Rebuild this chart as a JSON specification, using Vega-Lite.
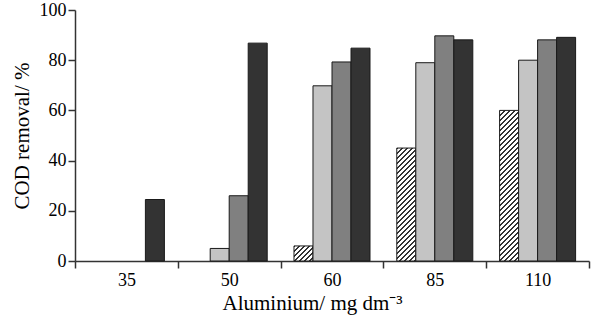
{
  "$schema": "https://vega.github.io/schema/vega-lite/v6.json",
  "width": 514,
  "height": 251,
  "autosize": {"type": "none"},
  "padding": {"left": 75, "top": 10, "right": 7, "bottom": 59},
  "background": "white",
  "config": {"view": {"stroke": null}, "font": "Liberation Serif"},
  "data": {
    "values": [
      {"al": "35", "series": "D", "cod": 24.5},
      {"al": "50", "series": "B", "cod": 5},
      {"al": "50", "series": "C", "cod": 26},
      {"al": "50", "series": "D", "cod": 86.8},
      {"al": "60", "series": "A", "cod": 6},
      {"al": "60", "series": "B", "cod": 69.8},
      {"al": "60", "series": "C", "cod": 79.3},
      {"al": "60", "series": "D", "cod": 84.8},
      {"al": "85", "series": "A", "cod": 45},
      {"al": "85", "series": "B", "cod": 79},
      {"al": "85", "series": "C", "cod": 89.7},
      {"al": "85", "series": "D", "cod": 88.1},
      {"al": "110", "series": "A", "cod": 60},
      {"al": "110", "series": "B", "cod": 80},
      {"al": "110", "series": "C", "cod": 88.1},
      {"al": "110", "series": "D", "cod": 89.1}
    ]
  },
  "mark": {"type": "bar", "stroke": "#1a1a1a", "strokeWidth": 1},
  "encoding": {
    "x": {
      "field": "al",
      "type": "nominal",
      "scale": {"domain": ["35", "50", "60", "85", "110"], "paddingInner": 0, "paddingOuter": 0},
      "axis": {
        "title": "Aluminium/ mg dm⁻³",
        "labelAngle": 0,
        "tickBand": "extent",
        "tickSize": 7,
        "tickWidth": 1.5,
        "tickColor": "#333",
        "domainColor": "#333",
        "domainWidth": 1.5,
        "labelFont": "Liberation Serif",
        "labelFontSize": 18,
        "labelColor": "#000",
        "labelPadding": 3,
        "titleFont": "Liberation Serif",
        "titleFontSize": 21,
        "titleFontWeight": "normal",
        "titleColor": "#000",
        "titlePadding": 3,
        "titleX": 147,
        "titleAlign": "left",
        "grid": false
      }
    },
    "xOffset": {
      "field": "series",
      "type": "nominal",
      "scale": {"domain": ["A", "B", "C", "D"], "paddingInner": 0, "paddingOuter": 0.705}
    },
    "y": {
      "field": "cod",
      "type": "quantitative",
      "scale": {"domain": [0, 100]},
      "axis": {
        "title": "COD removal/ %",
        "values": [0, 20, 40, 60, 80, 100],
        "tickSize": 7,
        "tickWidth": 1.5,
        "tickColor": "#333",
        "domainColor": "#333",
        "domainWidth": 1.5,
        "labelFont": "Liberation Serif",
        "labelFontSize": 18,
        "labelColor": "#000",
        "labelPadding": 2,
        "titleFont": "Liberation Serif",
        "titleFontSize": 21,
        "titleFontWeight": "normal",
        "titleColor": "#000",
        "titlePadding": 7,
        "grid": false
      }
    },
    "fill": {
      "condition": [
        {
          "test": "datum.al === '60' && datum.series === 'A'",
          "value": {
            "gradient": "linear", "x1": 0, "y1": 0, "x2": 6.465, "y2": 5.125,
            "stops": [
              {"offset": 0, "color": "#333"}, {"offset": 0.009, "color": "#333"}, {"offset": 0.009, "color": "#fff"}, {"offset": 0.025, "color": "#fff"},
              {"offset": 0.025, "color": "#333"}, {"offset": 0.034, "color": "#333"}, {"offset": 0.034, "color": "#fff"}, {"offset": 0.05, "color": "#fff"},
              {"offset": 0.05, "color": "#333"}, {"offset": 0.059, "color": "#333"}, {"offset": 0.059, "color": "#fff"}, {"offset": 0.075, "color": "#fff"},
              {"offset": 0.075, "color": "#333"}, {"offset": 0.084, "color": "#333"}, {"offset": 0.084, "color": "#fff"}, {"offset": 0.1, "color": "#fff"},
              {"offset": 0.1, "color": "#333"}, {"offset": 0.109, "color": "#333"}, {"offset": 0.109, "color": "#fff"}, {"offset": 0.125, "color": "#fff"},
              {"offset": 0.125, "color": "#333"}, {"offset": 0.134, "color": "#333"}, {"offset": 0.134, "color": "#fff"}, {"offset": 0.15, "color": "#fff"},
              {"offset": 0.15, "color": "#333"}, {"offset": 0.159, "color": "#333"}, {"offset": 0.159, "color": "#fff"}, {"offset": 0.175, "color": "#fff"},
              {"offset": 0.175, "color": "#333"}, {"offset": 0.184, "color": "#333"}, {"offset": 0.184, "color": "#fff"}, {"offset": 0.2, "color": "#fff"}
            ]
          }
        },
        {
          "test": "datum.al === '85' && datum.series === 'A'",
          "value": {
            "gradient": "linear", "x1": 0, "y1": 0, "x2": 0.2897, "y2": 1.7219,
            "stops": [
              {"offset": 0, "color": "#333"}, {"offset": 0.009, "color": "#333"}, {"offset": 0.009, "color": "#fff"}, {"offset": 0.025, "color": "#fff"},
              {"offset": 0.025, "color": "#333"}, {"offset": 0.034, "color": "#333"}, {"offset": 0.034, "color": "#fff"}, {"offset": 0.05, "color": "#fff"},
              {"offset": 0.05, "color": "#333"}, {"offset": 0.059, "color": "#333"}, {"offset": 0.059, "color": "#fff"}, {"offset": 0.075, "color": "#fff"},
              {"offset": 0.075, "color": "#333"}, {"offset": 0.084, "color": "#333"}, {"offset": 0.084, "color": "#fff"}, {"offset": 0.1, "color": "#fff"},
              {"offset": 0.1, "color": "#333"}, {"offset": 0.109, "color": "#333"}, {"offset": 0.109, "color": "#fff"}, {"offset": 0.125, "color": "#fff"},
              {"offset": 0.125, "color": "#333"}, {"offset": 0.134, "color": "#333"}, {"offset": 0.134, "color": "#fff"}, {"offset": 0.15, "color": "#fff"},
              {"offset": 0.15, "color": "#333"}, {"offset": 0.159, "color": "#333"}, {"offset": 0.159, "color": "#fff"}, {"offset": 0.175, "color": "#fff"},
              {"offset": 0.175, "color": "#333"}, {"offset": 0.184, "color": "#333"}, {"offset": 0.184, "color": "#fff"}, {"offset": 0.2, "color": "#fff"},
              {"offset": 0.2, "color": "#333"}, {"offset": 0.209, "color": "#333"}, {"offset": 0.209, "color": "#fff"}, {"offset": 0.225, "color": "#fff"},
              {"offset": 0.225, "color": "#333"}, {"offset": 0.234, "color": "#333"}, {"offset": 0.234, "color": "#fff"}, {"offset": 0.25, "color": "#fff"},
              {"offset": 0.25, "color": "#333"}, {"offset": 0.259, "color": "#333"}, {"offset": 0.259, "color": "#fff"}, {"offset": 0.275, "color": "#fff"},
              {"offset": 0.275, "color": "#333"}, {"offset": 0.284, "color": "#333"}, {"offset": 0.284, "color": "#fff"}, {"offset": 0.3, "color": "#fff"},
              {"offset": 0.3, "color": "#333"}, {"offset": 0.309, "color": "#333"}, {"offset": 0.309, "color": "#fff"}, {"offset": 0.325, "color": "#fff"},
              {"offset": 0.325, "color": "#333"}, {"offset": 0.334, "color": "#333"}, {"offset": 0.334, "color": "#fff"}, {"offset": 0.35, "color": "#fff"},
              {"offset": 0.35, "color": "#333"}, {"offset": 0.359, "color": "#333"}, {"offset": 0.359, "color": "#fff"}, {"offset": 0.375, "color": "#fff"},
              {"offset": 0.375, "color": "#333"}, {"offset": 0.384, "color": "#333"}, {"offset": 0.384, "color": "#fff"}, {"offset": 0.4, "color": "#fff"},
              {"offset": 0.4, "color": "#333"}, {"offset": 0.409, "color": "#333"}, {"offset": 0.409, "color": "#fff"}, {"offset": 0.425, "color": "#fff"},
              {"offset": 0.425, "color": "#333"}, {"offset": 0.434, "color": "#333"}, {"offset": 0.434, "color": "#fff"}, {"offset": 0.45, "color": "#fff"},
              {"offset": 0.45, "color": "#333"}, {"offset": 0.459, "color": "#333"}, {"offset": 0.459, "color": "#fff"}, {"offset": 0.475, "color": "#fff"},
              {"offset": 0.475, "color": "#333"}, {"offset": 0.484, "color": "#333"}, {"offset": 0.484, "color": "#fff"}, {"offset": 0.5, "color": "#fff"},
              {"offset": 0.5, "color": "#333"}, {"offset": 0.509, "color": "#333"}, {"offset": 0.509, "color": "#fff"}, {"offset": 0.525, "color": "#fff"},
              {"offset": 0.525, "color": "#333"}, {"offset": 0.534, "color": "#333"}, {"offset": 0.534, "color": "#fff"}, {"offset": 0.55, "color": "#fff"},
              {"offset": 0.55, "color": "#333"}, {"offset": 0.559, "color": "#333"}, {"offset": 0.559, "color": "#fff"}, {"offset": 0.575, "color": "#fff"},
              {"offset": 0.575, "color": "#333"}, {"offset": 0.584, "color": "#333"}, {"offset": 0.584, "color": "#fff"}, {"offset": 0.6, "color": "#fff"},
              {"offset": 0.6, "color": "#333"}, {"offset": 0.609, "color": "#333"}, {"offset": 0.609, "color": "#fff"}, {"offset": 0.625, "color": "#fff"},
              {"offset": 0.625, "color": "#333"}, {"offset": 0.634, "color": "#333"}, {"offset": 0.634, "color": "#fff"}, {"offset": 0.65, "color": "#fff"},
              {"offset": 0.65, "color": "#333"}, {"offset": 0.659, "color": "#333"}, {"offset": 0.659, "color": "#fff"}, {"offset": 0.675, "color": "#fff"},
              {"offset": 0.675, "color": "#333"}, {"offset": 0.684, "color": "#333"}, {"offset": 0.684, "color": "#fff"}, {"offset": 0.7, "color": "#fff"}
            ]
          }
        },
        {
          "test": "datum.al === '110' && datum.series === 'A'",
          "value": {
            "gradient": "linear", "x1": 0, "y1": 0, "x2": 0.1649, "y2": 1.3072,
            "stops": [
              {"offset": 0, "color": "#333"}, {"offset": 0.009, "color": "#333"}, {"offset": 0.009, "color": "#fff"}, {"offset": 0.025, "color": "#fff"},
              {"offset": 0.025, "color": "#333"}, {"offset": 0.034, "color": "#333"}, {"offset": 0.034, "color": "#fff"}, {"offset": 0.05, "color": "#fff"},
              {"offset": 0.05, "color": "#333"}, {"offset": 0.059, "color": "#333"}, {"offset": 0.059, "color": "#fff"}, {"offset": 0.075, "color": "#fff"},
              {"offset": 0.075, "color": "#333"}, {"offset": 0.084, "color": "#333"}, {"offset": 0.084, "color": "#fff"}, {"offset": 0.1, "color": "#fff"},
              {"offset": 0.1, "color": "#333"}, {"offset": 0.109, "color": "#333"}, {"offset": 0.109, "color": "#fff"}, {"offset": 0.125, "color": "#fff"},
              {"offset": 0.125, "color": "#333"}, {"offset": 0.134, "color": "#333"}, {"offset": 0.134, "color": "#fff"}, {"offset": 0.15, "color": "#fff"},
              {"offset": 0.15, "color": "#333"}, {"offset": 0.159, "color": "#333"}, {"offset": 0.159, "color": "#fff"}, {"offset": 0.175, "color": "#fff"},
              {"offset": 0.175, "color": "#333"}, {"offset": 0.184, "color": "#333"}, {"offset": 0.184, "color": "#fff"}, {"offset": 0.2, "color": "#fff"},
              {"offset": 0.2, "color": "#333"}, {"offset": 0.209, "color": "#333"}, {"offset": 0.209, "color": "#fff"}, {"offset": 0.225, "color": "#fff"},
              {"offset": 0.225, "color": "#333"}, {"offset": 0.234, "color": "#333"}, {"offset": 0.234, "color": "#fff"}, {"offset": 0.25, "color": "#fff"},
              {"offset": 0.25, "color": "#333"}, {"offset": 0.259, "color": "#333"}, {"offset": 0.259, "color": "#fff"}, {"offset": 0.275, "color": "#fff"},
              {"offset": 0.275, "color": "#333"}, {"offset": 0.284, "color": "#333"}, {"offset": 0.284, "color": "#fff"}, {"offset": 0.3, "color": "#fff"},
              {"offset": 0.3, "color": "#333"}, {"offset": 0.309, "color": "#333"}, {"offset": 0.309, "color": "#fff"}, {"offset": 0.325, "color": "#fff"},
              {"offset": 0.325, "color": "#333"}, {"offset": 0.334, "color": "#333"}, {"offset": 0.334, "color": "#fff"}, {"offset": 0.35, "color": "#fff"},
              {"offset": 0.35, "color": "#333"}, {"offset": 0.359, "color": "#333"}, {"offset": 0.359, "color": "#fff"}, {"offset": 0.375, "color": "#fff"},
              {"offset": 0.375, "color": "#333"}, {"offset": 0.384, "color": "#333"}, {"offset": 0.384, "color": "#fff"}, {"offset": 0.4, "color": "#fff"},
              {"offset": 0.4, "color": "#333"}, {"offset": 0.409, "color": "#333"}, {"offset": 0.409, "color": "#fff"}, {"offset": 0.425, "color": "#fff"},
              {"offset": 0.425, "color": "#333"}, {"offset": 0.434, "color": "#333"}, {"offset": 0.434, "color": "#fff"}, {"offset": 0.45, "color": "#fff"},
              {"offset": 0.45, "color": "#333"}, {"offset": 0.459, "color": "#333"}, {"offset": 0.459, "color": "#fff"}, {"offset": 0.475, "color": "#fff"},
              {"offset": 0.475, "color": "#333"}, {"offset": 0.484, "color": "#333"}, {"offset": 0.484, "color": "#fff"}, {"offset": 0.5, "color": "#fff"},
              {"offset": 0.5, "color": "#333"}, {"offset": 0.509, "color": "#333"}, {"offset": 0.509, "color": "#fff"}, {"offset": 0.525, "color": "#fff"},
              {"offset": 0.525, "color": "#333"}, {"offset": 0.534, "color": "#333"}, {"offset": 0.534, "color": "#fff"}, {"offset": 0.55, "color": "#fff"},
              {"offset": 0.55, "color": "#333"}, {"offset": 0.559, "color": "#333"}, {"offset": 0.559, "color": "#fff"}, {"offset": 0.575, "color": "#fff"},
              {"offset": 0.575, "color": "#333"}, {"offset": 0.584, "color": "#333"}, {"offset": 0.584, "color": "#fff"}, {"offset": 0.6, "color": "#fff"},
              {"offset": 0.6, "color": "#333"}, {"offset": 0.609, "color": "#333"}, {"offset": 0.609, "color": "#fff"}, {"offset": 0.625, "color": "#fff"},
              {"offset": 0.625, "color": "#333"}, {"offset": 0.634, "color": "#333"}, {"offset": 0.634, "color": "#fff"}, {"offset": 0.65, "color": "#fff"},
              {"offset": 0.65, "color": "#333"}, {"offset": 0.659, "color": "#333"}, {"offset": 0.659, "color": "#fff"}, {"offset": 0.675, "color": "#fff"},
              {"offset": 0.675, "color": "#333"}, {"offset": 0.684, "color": "#333"}, {"offset": 0.684, "color": "#fff"}, {"offset": 0.7, "color": "#fff"},
              {"offset": 0.7, "color": "#333"}, {"offset": 0.709, "color": "#333"}, {"offset": 0.709, "color": "#fff"}, {"offset": 0.725, "color": "#fff"},
              {"offset": 0.725, "color": "#333"}, {"offset": 0.734, "color": "#333"}, {"offset": 0.734, "color": "#fff"}, {"offset": 0.75, "color": "#fff"},
              {"offset": 0.75, "color": "#333"}, {"offset": 0.759, "color": "#333"}, {"offset": 0.759, "color": "#fff"}, {"offset": 0.775, "color": "#fff"},
              {"offset": 0.775, "color": "#333"}, {"offset": 0.784, "color": "#333"}, {"offset": 0.784, "color": "#fff"}, {"offset": 0.8, "color": "#fff"},
              {"offset": 0.8, "color": "#333"}, {"offset": 0.809, "color": "#333"}, {"offset": 0.809, "color": "#fff"}, {"offset": 0.825, "color": "#fff"},
              {"offset": 0.825, "color": "#333"}, {"offset": 0.834, "color": "#333"}, {"offset": 0.834, "color": "#fff"}, {"offset": 0.85, "color": "#fff"},
              {"offset": 0.85, "color": "#333"}, {"offset": 0.859, "color": "#333"}, {"offset": 0.859, "color": "#fff"}, {"offset": 0.875, "color": "#fff"}
            ]
          }
        }
      ],
      "field": "series",
      "type": "nominal",
      "scale": {"domain": ["A", "B", "C", "D"], "range": ["#ffffff", "#c4c4c4", "#808080", "#333333"]},
      "legend": null
    }
  }
}
